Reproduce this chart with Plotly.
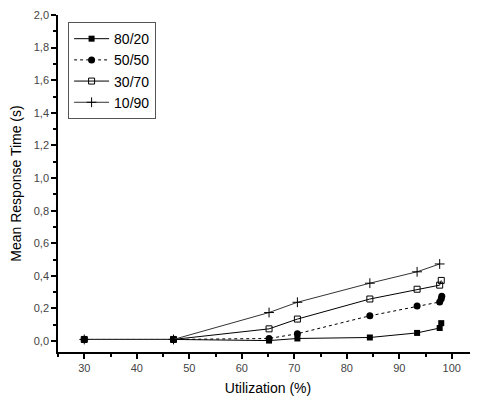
import plotly.graph_objects as go

util_80_20 = [30, 47, 65.2, 70.6, 84.4, 93.4, 97.7, 98.0]
resp_80_20 = [0.01, 0.01, 0.003, 0.016, 0.022, 0.05, 0.08, 0.11]

util_50_50 = [30, 47, 65.2, 70.6, 84.4, 93.4, 97.7, 98.0, 98.1]
resp_50_50 = [0.01, 0.01, 0.016, 0.045, 0.155, 0.215, 0.24, 0.26, 0.275]

util_30_70 = [30, 47, 65.2, 70.6, 84.4, 93.4, 97.7, 98.0]
resp_30_70 = [0.01, 0.01, 0.075, 0.135, 0.258, 0.318, 0.343, 0.372]

util_10_90 = [30, 47, 65.2, 70.6, 84.4, 93.4, 97.7]
resp_10_90 = [0.01, 0.01, 0.175, 0.238, 0.355, 0.425, 0.473]

font = "Liberation Sans, Arial, sans-serif"

fig = go.Figure()
fig.add_trace(go.Scatter(x=util_80_20, y=resp_80_20, name="80/20", mode="lines+markers",
                         line=dict(color="black", width=1),
                         marker=dict(symbol="square", size=6, color="black")))
fig.add_trace(go.Scatter(x=util_50_50, y=resp_50_50, name="50/50", mode="lines+markers",
                         line=dict(color="black", width=1, dash="dot"),
                         marker=dict(symbol="circle", size=7, color="black")))
fig.add_trace(go.Scatter(x=util_30_70, y=resp_30_70, name="30/70", mode="lines+markers",
                         line=dict(color="black", width=1),
                         marker=dict(symbol="square-open", size=6, color="black", line=dict(width=1))))
fig.add_trace(go.Scatter(x=util_10_90, y=resp_10_90, name="10/90", mode="lines+markers",
                         line=dict(color="#333333", width=1),
                         marker=dict(symbol="cross-thin", size=7, color="black",
                                     line=dict(width=1, color="black"))))

axis_common = dict(showline=True, linecolor="black", linewidth=1.5, ticks="outside",
                   ticklen=5, tickwidth=1.5, tickcolor="black", showgrid=False, zeroline=False,
                   tickfont=dict(family=font, size=11, color="#444444"), mirror=False,
                   automargin=False, ticklabeloverflow="allow")

fig.update_layout(
    width=470, height=396,
    margin=dict(l=50, r=0, t=7, b=52),
    paper_bgcolor="white", plot_bgcolor="white",
    separators=",.",
    font=dict(family=font, color="black"),
    xaxis=dict(range=[25, 105], tickvals=[30, 40, 50, 60, 70, 80, 90, 100],
               minor=dict(ticks="outside", ticklen=3, tickcolor="black", dtick=5, tick0=25),
               title=dict(text="Utilization (%)", font=dict(family=font, size=14), standoff=10),
               **axis_common),
    yaxis=dict(range=[-0.067, 2.0], tickvals=[0, 0.2, 0.4, 0.6, 0.8, 1.0, 1.2, 1.4, 1.6, 1.8, 2.0],
               tickformat=".1f",
               minor=dict(ticks="outside", ticklen=3, tickcolor="black", dtick=0.1, tick0=0),
               title=dict(text="Mean Response Time (s)", font=dict(family=font, size=14), standoff=10),
               **axis_common),
    legend=dict(x=0.024, y=0.979, xanchor="left", yanchor="top",
                bordercolor="#555555", borderwidth=1, bgcolor="white",
                font=dict(family=font, size=14), itemwidth=35, tracegroupgap=0),
    showlegend=True,
)

fig.write_html("out.html")
